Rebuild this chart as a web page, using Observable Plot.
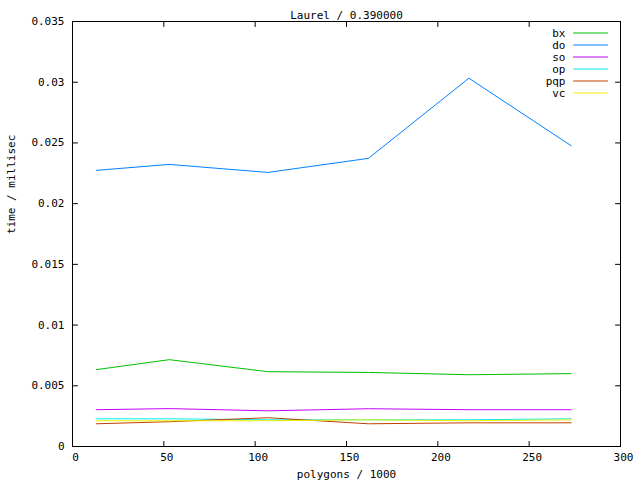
<!DOCTYPE html>
<html>
<head>
<meta charset="utf-8">
<script src="https://cdn.jsdelivr.net/npm/d3@7"></script>
<script src="https://cdn.jsdelivr.net/npm/@observablehq/plot@0.6"></script>
<style>
  html, body { margin: 0; padding: 0; background: #fff; }
</style>
</head>
<body>
<div id="chart"></div>
<script>
const titleText = "Laurel / 0.390000";
const xLabel = "polygons / 1000";
const yLabel = "time / millisec";

const polygons = [13, 53, 107, 162, 217, 273];
const seriesNames = ["bx", "do", "so", "op", "pqp", "vc"];
const seriesColors = ["#00c000", "#0080ff", "#c000ff", "#00eeee", "#c04000", "#eeee00"];

const bx  = [0.00633, 0.00715, 0.00616, 0.00610, 0.00591, 0.00600];
const doV = [0.02274, 0.02323, 0.02257, 0.02373, 0.03033, 0.02477];
const so  = [0.00303, 0.00312, 0.00294, 0.00311, 0.00303, 0.00303];
const op  = [0.00228, 0.00228, 0.00220, 0.00220, 0.00220, 0.00228];
const pqp = [0.00187, 0.00204, 0.00237, 0.00187, 0.00195, 0.00195];
const vc  = [0.00212, 0.00212, 0.00212, 0.00220, 0.00212, 0.00220];

const xTicks = [0, 50, 100, 150, 200, 250, 300];
const xTickLabels = ["0", "50", "100", "150", "200", "250", "300"];
const yTicks = [0, 0.005, 0.01, 0.015, 0.02, 0.025, 0.03, 0.035];
const yTickLabels = ["0", "0.005", "0.01", "0.015", "0.02", "0.025", "0.03", "0.035"];

const seriesValues = [bx, doV, so, op, pqp, vc];
const rows = [];
seriesNames.forEach((name, s) => {
  polygons.forEach((p, i) => rows.push({series: name, x: p, y: seriesValues[s][i]}));
});

const lineShape = {
  draw(context, l) { context.moveTo(0, 0); context.lineTo(0, -l); }
};

const legendMarks = [];
seriesNames.forEach((name, i) => {
  legendMarks.push(Plot.text([name], {
    text: d => d, frameAnchor: "top-right", textAnchor: "end", lineAnchor: "middle",
    dx: -55, dy: 11.5 + 12 * i, fill: "black"
  }));
  legendMarks.push(Plot.vector([name], {
    frameAnchor: "top-right", dx: -47, dy: 11.5 + 12 * i, length: 34, rotate: 90,
    anchor: "start", shape: lineShape, stroke: seriesColors[i], strokeWidth: 1
  }));
});

const tickOpts = {length: 5, anchor: "start", shape: lineShape, stroke: "black", strokeWidth: 1};

const chart = Plot.plot({
  width: 640,
  height: 480,
  marginLeft: 72,
  marginRight: 20,
  marginTop: 21,
  marginBottom: 34,
  style: {fontFamily: "'DejaVu Sans Mono', monospace", fontSize: "11px", color: "black", background: "white"},
  x: {domain: [0, 300]},
  y: {domain: [0, 0.035]},
  color: {domain: seriesNames, range: seriesColors},
  marks: [
    Plot.axisX(xTicks, {anchor: "bottom", tickSize: 0, tickPadding: 7, dx: 3, tickFormat: (d, i) => xTickLabels[i], label: null}),
    Plot.axisY(yTicks, {anchor: "left", tickSize: 0, tickPadding: 8, tickFormat: (d, i) => yTickLabels[i], label: null}),
    Plot.vector(xTicks, {x: d => d, frameAnchor: "bottom", rotate: 0, ...tickOpts}),
    Plot.vector(xTicks, {x: d => d, frameAnchor: "top", rotate: 180, ...tickOpts}),
    Plot.vector(yTicks, {y: d => d, frameAnchor: "left", rotate: 90, ...tickOpts}),
    Plot.vector(yTicks, {y: d => d, frameAnchor: "right", rotate: -90, ...tickOpts}),
    Plot.line(rows, {x: "x", y: "y", z: "series", stroke: "series", strokeWidth: 1}),
    Plot.frame({stroke: "black", strokeWidth: 1}),
    Plot.text([titleText], {text: d => d, frameAnchor: "top", dy: -6, lineAnchor: "middle", fill: "black"}),
    Plot.text([xLabel], {text: d => d, frameAnchor: "bottom", dy: 28, lineAnchor: "middle", fill: "black"}),
    Plot.text([yLabel], {text: d => d, frameAnchor: "left", dx: -61, rotate: -90, lineAnchor: "middle", fill: "black"}),
    ...legendMarks
  ]
});

document.getElementById("chart").appendChild(chart);
</script>
</body>
</html>
